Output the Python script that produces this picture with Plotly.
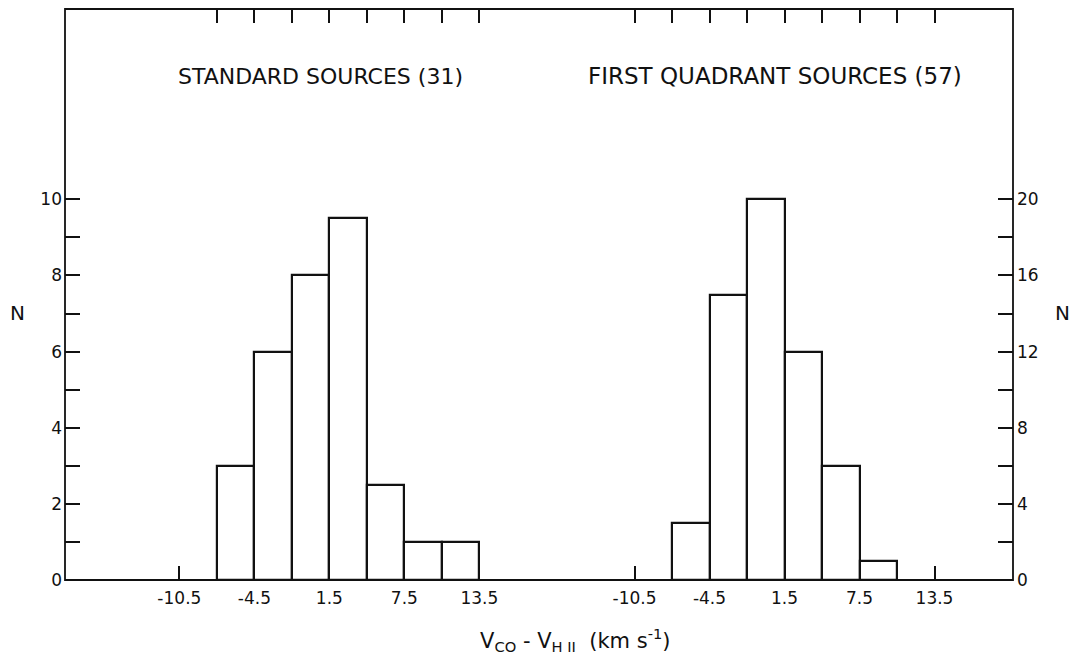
import plotly.graph_objects as go

# ---- data ----
bin_width = 3.0
std_centers = [-6, -3, 0, 3, 6, 9, 12]
std_counts = [3, 6, 8, 9.5, 2.5, 1, 1]
fq_centers = [-6, -3, 0, 3, 6, 9]
fq_counts = [3, 15, 20, 12, 6, 1]

x_tickvals = [-10.5, -4.5, 1.5, 7.5, 13.5]
x_ticktext = ["-10.5", "-4.5", "1.5", "7.5", "13.5"]
std_top_ticks = [-7.5, -4.5, -1.5, 1.5, 4.5, 7.5, 10.5, 13.5]
fq_top_ticks = [-10.5, -7.5, -4.5, -1.5, 1.5, 4.5, 7.5, 10.5, 13.5]
left_major = [0, 2, 4, 6, 8, 10]
left_minor = [1, 3, 5, 7, 9]
right_major = [0, 4, 8, 12, 16, 20]
right_minor = [2, 6, 10, 14, 18]

title_left = "STANDARD SOURCES (31)"
title_right = "FIRST QUADRANT SOURCES (57)"

FONT = "DejaVu Sans"
BLACK = "#111111"

left_range = [-19.65, 18.27]
right_range = [-18.14, 19.78]
left_yrange = [0, 15]
right_yrange = [0, 30]

fig = go.Figure()
fig.add_trace(go.Bar(x=std_centers, y=std_counts, width=bin_width,
                     marker=dict(color="white", line=dict(color=BLACK, width=2.2)),
                     xaxis="x", yaxis="y", showlegend=False))
fig.add_trace(go.Bar(x=fq_centers, y=fq_counts, width=bin_width,
                     marker=dict(color="white", line=dict(color=BLACK, width=2.2)),
                     xaxis="x2", yaxis="y2", showlegend=False))
# invisible traces so the extra tick axes exist
fig.add_trace(go.Scatter(x=[None], y=[None], xaxis="x3", yaxis="y3", showlegend=False, hoverinfo="skip"))
fig.add_trace(go.Scatter(x=[None], y=[None], xaxis="x4", yaxis="y4", showlegend=False, hoverinfo="skip"))

tickfont = dict(family=FONT, size=17, color=BLACK)
common = dict(showgrid=False, zeroline=False, showline=False, ticks="inside",
              tickwidth=1.6, tickcolor=BLACK, tickfont=tickfont, fixedrange=True,
              tickmode="array")

fig.update_layout(
    width=1073, height=660,
    margin=dict(l=65, r=60, t=9, b=80),
    paper_bgcolor="white", plot_bgcolor="white",
    bargap=0,
    xaxis=dict(domain=[0, 0.5], range=left_range, anchor="y", ticklen=14,
               tickvals=x_tickvals, ticktext=x_ticktext, ticklabelstandoff=6, **common),
    xaxis2=dict(domain=[0.5, 1], range=right_range, anchor="y2", ticklen=14,
                tickvals=x_tickvals, ticktext=x_ticktext, ticklabelstandoff=6, **common),
    xaxis3=dict(domain=[0, 0.5], overlaying="x", side="top", anchor="y3", range=left_range,
                ticklen=14, tickvals=std_top_ticks, showticklabels=False, **common),
    xaxis4=dict(domain=[0.5, 1], overlaying="x2", side="top", anchor="y4", range=right_range,
                ticklen=14, tickvals=fq_top_ticks, showticklabels=False, **common),
    yaxis=dict(domain=[0, 1], range=left_yrange, anchor="x", side="left", ticklen=15,
               tickvals=left_major, ticktext=[str(v) for v in left_major],
               ticklabelstandoff=2, **common),
    yaxis2=dict(domain=[0, 1], range=right_yrange, anchor="x2", side="right", ticklen=15,
                tickvals=right_major, ticktext=[str(v) for v in right_major],
                ticklabelstandoff=3, **common),
    yaxis3=dict(domain=[0, 1], range=left_yrange, anchor="x3", overlaying="y", side="left",
                ticklen=15, tickvals=left_minor, showticklabels=False, **common),
    yaxis4=dict(domain=[0, 1], range=right_yrange, anchor="x4", overlaying="y2", side="right",
                ticklen=15, tickvals=right_minor, showticklabels=False, **common),
    shapes=[dict(type="rect", xref="paper", yref="paper", x0=0, x1=1, y0=0, y1=1,
                 line=dict(color=BLACK, width=1.8), fillcolor="rgba(0,0,0,0)", layer="above")],
    annotations=[
        dict(text=title_left, xref="paper", yref="paper", x=0.269, y=0.882,
             showarrow=False, font=dict(family=FONT, size=22, color=BLACK),
             xanchor="center", yanchor="middle"),
        dict(text=title_right, xref="paper", yref="paper", x=0.749, y=0.882,
             showarrow=False, font=dict(family=FONT, size=23, color=BLACK),
             xanchor="center", yanchor="middle"),
        dict(text="N", xref="paper", yref="paper", x=-0.0506, y=0.4676,
             showarrow=False, font=dict(family=FONT, size=20, color=BLACK),
             xanchor="center", yanchor="middle"),
        dict(text="N", xref="paper", yref="paper", x=1.0527, y=0.4676,
             showarrow=False, font=dict(family=FONT, size=20, color=BLACK),
             xanchor="center", yanchor="middle"),
        dict(text="V<sub>CO</sub> - V<sub>H II</sub>  (km s<sup>-1</sup>)",
             xref="paper", yref="paper", x=0.539, y=-0.105,
             showarrow=False, font=dict(family=FONT, size=21, color=BLACK),
             xanchor="center", yanchor="middle"),
    ],
)

fig.write_html("out.html")
